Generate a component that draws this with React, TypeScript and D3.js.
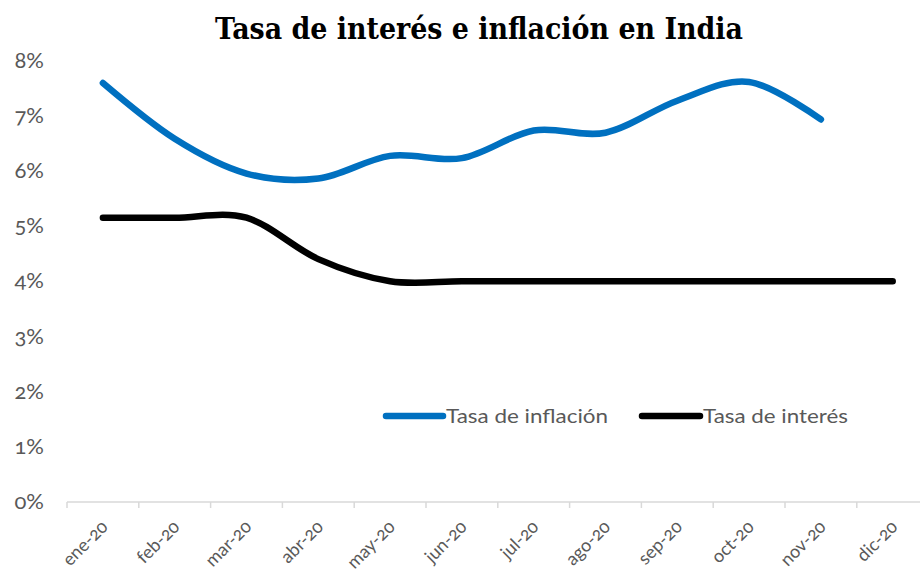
import React, { useEffect } from "react";
import * as d3 from "d3";

const categories = ["ene-20", "feb-20", "mar-20", "abr-20", "may-20", "jun-20", "jul-20", "ago-20", "sep-20", "oct-20", "nov-20", "dic-20"];
const inflacion = [7.59, 6.58, 5.95, 5.86, 6.27, 6.23, 6.73, 6.69, 7.27, 7.61, 6.93];
const interes = [5.15, 5.15, 5.15, 4.4, 4.0, 4.0, 4.0, 4.0, 4.0, 4.0, 4.0, 4.0];
const yTicks = [0, 1, 2, 3, 4, 5, 6, 7, 8];
const title = "Tasa de interés e inflación en India";
const legendLabels = ["Tasa de inflación", "Tasa de interés"];

const W = 920;
const H = 575;
const BLUE = "#0070C0";
const GRAY = "#595959";
const numStyle = { fontVariantNumeric: "oldstyle-nums", fontFeatureSettings: '"onum" 1' } as React.CSSProperties;

export default function App() {
  useEffect(() => {
    document.body.style.margin = "0";
  }, []);

  const x = d3.scaleBand<string>().domain(categories).range([67, 67 + 71.8 * 12]).padding(0);
  const y = d3.scaleLinear().domain([0, 8]).range([502, 60.4]);
  const cx = (i: number) => (x(categories[i]) as number) + x.bandwidth() / 2;

  const line = d3
    .line<number>()
    .x((_, i) => cx(i))
    .y((d) => y(d))
    .curve(d3.curveCatmullRom.alpha(0));

  const tickXs = categories.map((c) => x(c) as number).concat([(x(categories[11]) as number) + x.bandwidth()]);

  return (
    <svg width={W} height={H} style={{ display: "block", background: "#fff" }}>
      <text
        x={479}
        y={39}
        textAnchor="middle"
        fontFamily="'DejaVu Serif Condensed', 'DejaVu Serif', serif"
        fontWeight="bold"
        fontSize={29}
        fill="#000"
        textLength={528}
        lengthAdjust="spacingAndGlyphs"
      >
        {title}
      </text>

      {/* y labels */}
      {yTicks.map((t) => (
        <text
          key={t}
          x={44}
          y={y(t)}
          dy="0.33em"
          textAnchor="end"
          fontFamily="Lato, 'Open Sans', sans-serif"
          fontSize={22}
          fill={GRAY}
          style={numStyle}
        >
          {t}%
        </text>
      ))}

      {/* x axis */}
      <line x1={tickXs[0]} x2={W} y1={502} y2={502} stroke="#D9D9D9" strokeWidth={1.5} />
      {tickXs.map((tx, i) => (
        <line key={i} x1={tx} x2={tx} y1={502} y2={508} stroke="#D9D9D9" strokeWidth={1.5} />
      ))}
      {categories.map((c, i) => (
        <text
          key={c}
          transform={`translate(${cx(i) + 6},${528}) rotate(-45)`}
          textAnchor="end"
          fontFamily="Lato, 'Open Sans', sans-serif"
          fontSize={18}
          fill={GRAY}
          style={numStyle}
        >
          {c}
        </text>
      ))}

      {/* lines */}
      <path d={line(interes) || ""} fill="none" stroke="#000" strokeWidth={6.5} strokeLinecap="round" strokeLinejoin="round" />
      <path d={line(inflacion) || ""} fill="none" stroke={BLUE} strokeWidth={6.5} strokeLinecap="round" strokeLinejoin="round" />

      {/* legend */}
      <line x1={386} x2={443} y1={416} y2={416} stroke={BLUE} strokeWidth={6.5} strokeLinecap="round" />
      <text x={446} y={416} dy="0.35em" fontFamily="Lato, 'Open Sans', sans-serif" fontSize={20} fill={GRAY} textLength={162} lengthAdjust="spacingAndGlyphs">
        {legendLabels[0]}
      </text>
      <line x1={642} x2={700} y1={416} y2={416} stroke="#000" strokeWidth={6.5} strokeLinecap="round" />
      <text x={703} y={416} dy="0.35em" fontFamily="Lato, 'Open Sans', sans-serif" fontSize={20} fill={GRAY} textLength={145} lengthAdjust="spacingAndGlyphs">
        {legendLabels[1]}
      </text>
    </svg>
  );
}
